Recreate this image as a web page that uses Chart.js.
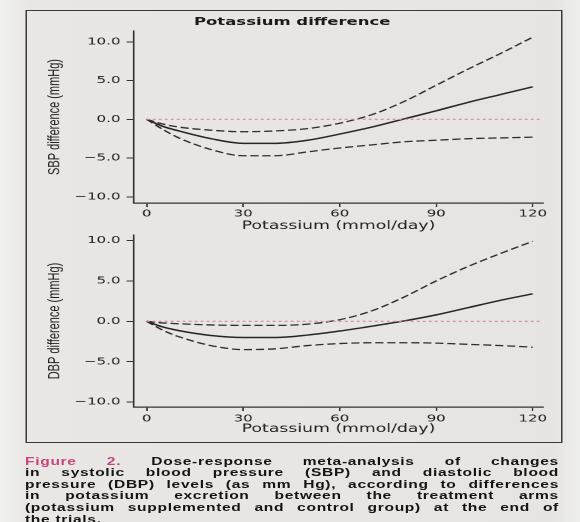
<!DOCTYPE html>
<html><head><meta charset="utf-8">
<script src="https://cdn.jsdelivr.net/npm/chart.js@4"></script>
<style>
html,body{margin:0;padding:0;width:580px;height:522px;overflow:hidden;}
body{background:linear-gradient(90deg,#f1f1ef 0px,#e8e7e3 28px,#e6e5e1 555px,#efefed 580px);}
#wrap{position:absolute;left:0;top:0;width:386.67px;height:522px;transform:scaleX(1.5);transform-origin:0 0;}
#frame{position:absolute;left:16.67px;top:10px;width:358.66px;height:433px;border:1.3px solid #3a3a3a;box-sizing:border-box;}
#title{position:absolute;left:0;width:389.6px;top:15px;line-height:13px;text-align:center;font-weight:bold;font-size:11px;font-family:"DejaVu Sans",sans-serif;color:#1a1a1a;}
canvas{position:absolute;left:0;}
#c1{top:0px;}
#c2{top:220px;}
#cap{position:absolute;left:16.67px;top:455.7px;width:356px;font-weight:bold;font-size:10.4px;font-family:"Liberation Sans",Arial,sans-serif;line-height:11.6px;color:#141414;}
#cap div{white-space:nowrap;text-align:justify;text-align-last:justify;letter-spacing:0.45px;}
#cap div.last{text-align-last:left;}
.fig{color:#c9457f;}
</style></head>
<body>
<div id="wrap">
  <div id="frame"></div>
  <div id="title">Potassium difference</div>
  <canvas id="c1" width="387" height="240"></canvas>
  <canvas id="c2" width="387" height="225"></canvas>
  <div id="cap">
    <div><span class="fig">Figure 2.</span> Dose-response meta-analysis of changes</div>
    <div>in systolic blood pressure (SBP) and diastolic blood</div>
    <div>pressure (DBP) levels (as mm Hg), according to differences</div>
    <div>in potassium excretion between the treatment arms</div>
    <div>(potassium supplemented and control group) at the end of</div>
    <div class="last">the trials.</div>
  </div>
</div>
<script>
const potassium   = [0, 5, 10, 20, 30, 40, 50, 60, 70, 80, 90, 100, 110, 120];
const sbpEstimate = [0, -0.9, -1.5, -2.5, -3.1, -3.1, -2.7, -1.9, -1.0, 0.05, 1.1, 2.2, 3.2, 4.2];
const sbpUpper    = [0, -0.6, -1.0, -1.4, -1.6, -1.5, -1.2, -0.5, 0.6, 2.3, 4.4, 6.5, 8.5, 10.6];
const sbpLower    = [0, -1.3, -2.4, -3.9, -4.7, -4.7, -4.2, -3.7, -3.3, -2.9, -2.7, -2.5, -2.4, -2.3];
const dbpEstimate = [0, -0.7, -1.15, -1.75, -2.0, -2.0, -1.7, -1.2, -0.6, 0.05, 0.8, 1.7, 2.6, 3.4];
const dbpUpper    = [0, -0.2, -0.3, -0.45, -0.5, -0.5, -0.35, 0.2, 1.3, 3.0, 5.0, 6.8, 8.4, 9.9];
const dbpLower    = [0, -1.1, -1.9, -3.0, -3.5, -3.4, -3.0, -2.75, -2.65, -2.65, -2.7, -2.85, -3.0, -3.2];
const zeroLineX   = [0, 123];
const xTicks      = [0, 30, 60, 90, 120];
const yTicks      = [-10, -5, 0, 5, 10];
const yTickLabels = ['\u221210.0', '\u22125.0', '0.0', '5.0', '10.0'];
const xTitle      = 'Potassium (mmol/day)';

function pts(ys) { return potassium.map((x, i) => ({x: x, y: ys[i]})); }

function makeChart(id, o) {
  const lineCol = '#2e2e2e';
  const tickFont = {family: 'DejaVu Sans', size: 10};
  return new Chart(document.getElementById(id), {
    type: 'line',
    data: {
      datasets: [
        {data: zeroLineX.map(x => ({x: x, y: 0})), borderColor: '#d88b96', borderWidth: 1.2, borderDash: [2, 2], tension: 0},
        {data: pts(o.upper), borderColor: lineCol, borderWidth: 1.3, borderDash: [5.5, 2.5]},
        {data: pts(o.lower), borderColor: lineCol, borderWidth: 1.3, borderDash: [5.5, 2.5]},
        {data: pts(o.est), borderColor: '#262626', borderWidth: 1.5}
      ]
    },
    options: {
      responsive: false,
      animation: false,
      devicePixelRatio: 2,
      layout: {padding: {left: 0, right: 25, top: o.padTop, bottom: 0}},
      elements: {point: {radius: 0}, line: {cubicInterpolationMode: 'monotone', fill: false}},
      plugins: {legend: {display: false}, tooltip: {enabled: false}},
      scales: {
        x: {
          type: 'linear', min: -3.95, max: 123.2,
          afterBuildTicks: s => { s.ticks = xTicks.map(v => ({value: v})); },
          afterFit: s => { s.height = o.xHeight; },
          grid: {display: true, drawOnChartArea: false, drawTicks: true, tickLength: 4, color: '#333'},
          border: {display: true, color: '#333', width: 1.2},
          ticks: {font: tickFont, color: '#1c1c1c', padding: o.xTickPad, maxRotation: 0, callback: v => String(v)},
          title: {display: true, text: xTitle, font: {family: 'DejaVu Sans', size: 11.5}, color: '#1c1c1c', padding: {top: 0, bottom: o.xTitlePad}}
        },
        y: {
          type: 'linear', min: o.yMin, max: o.yMax,
          afterBuildTicks: s => { s.ticks = yTicks.map(v => ({value: v})); },
          afterFit: s => { s.width = 89.33; },
          grid: {display: true, drawOnChartArea: false, drawTicks: true, tickLength: 5, color: '#333'},
          border: {display: true, color: '#333', width: 1.2},
          ticks: {font: tickFont, color: '#1c1c1c', padding: 4, callback: (v, i) => yTickLabels[yTicks.indexOf(v)]},
          title: {display: true, text: o.yTitle, font: {family: 'Liberation Sans', size: 11}, color: '#222', padding: {top: 30, bottom: 0}}
        }
      }
    }
  });
}

makeChart('c1', {est: sbpEstimate, upper: sbpUpper, lower: sbpLower, yMin: -10.8, yMax: 11.4,
  yTitle: 'SBP difference (mmHg)', padTop: 31, xHeight: 37, xTickPad: 1, xTitlePad: 7});
makeChart('c2', {est: dbpEstimate, upper: dbpUpper, lower: dbpLower, yMin: -10.6, yMax: 10.68,
  yTitle: 'DBP difference (mmHg)', padTop: 15, xHeight: 38, xTickPad: 2, xTitlePad: 9});
</script>
</body></html>
